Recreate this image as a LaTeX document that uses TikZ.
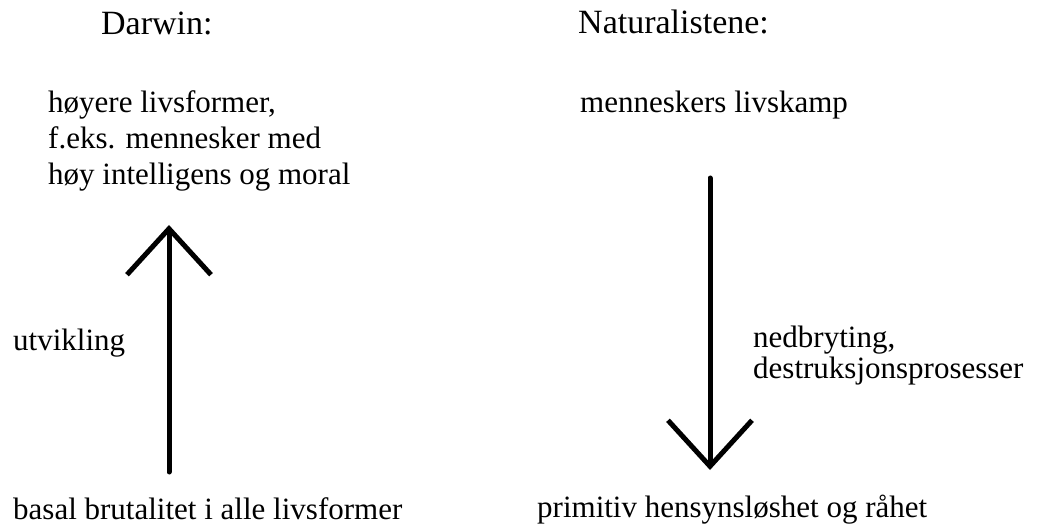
\documentclass[tikz,border=0pt]{standalone}
\usepackage{fontspec}
\setmainfont{Liberation Serif}
\usetikzlibrary{arrows.meta}

\begin{document}
\begin{tikzpicture}[
  x=1pt, y=-1pt,
  txt/.style={anchor=base west, inner sep=0pt, font=\fontsize{31}{36}\selectfont, align=left},
  head/.style={anchor=base west, inner sep=0pt, font=\fontsize{34}{38}\selectfont},
  bigarrow/.style={line width=5pt, line cap=round, -{Straight Barb[length=46pt, width=84pt, line width=5pt]}},
]
  \useasboundingbox (0,0) rectangle (1037,524);

  % Headings
  \node[head] (darwin) at (101,35) {Darwin:};
  \node[head] (natur) at (578,34) {Naturalistene:};

  % Darwin side
  \node[txt] (hoyere) at (48,185) {høyere livsformer,\\f.eks. mennesker med\\høy intelligens og moral};
  \node[txt] (utv) at (13,350) {utvikling};
  \node[txt] (basal) at (13,519) {basal brutalitet i alle livsformer};

  % Naturalistene side
  \node[txt] (livskamp) at (580,113) {menneskers livskamp};
  \node[txt, font=\fontsize{31}{31}\selectfont] (nedbr) at (753,378) {nedbryting,\\destruksjonsprosesser};
  \node[txt] (primitiv) at (537,517) {primitiv hensynsløshet og råhet};

  % Arrows
  \coordinate (upfoot) at (169,472);
  \coordinate (uptip) at (169,225);
  \coordinate (downtop) at (710,178);
  \coordinate (downtip) at (710,470);
  \draw[bigarrow] (upfoot) -- (uptip);
  \draw[bigarrow] (downtop) -- (downtip);
\end{tikzpicture}
\end{document}
